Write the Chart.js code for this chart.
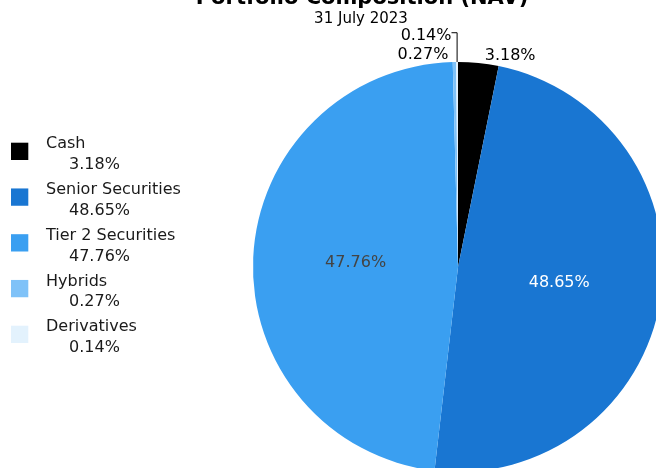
<!DOCTYPE html>
<html>
<head>
<meta charset="utf-8">
<script src="https://cdn.jsdelivr.net/npm/chart.js@4/dist/chart.umd.min.js"></script>
<style>
  html, body { margin: 0; padding: 0; overflow: hidden; background: #fff; }
  #wrap { position: absolute; left: 0; top: -30px; width: 722px; height: 540px; }
</style>
</head>
<body>
<div id="wrap"><canvas id="pieChart"></canvas></div>
<script>
const titleText = 'Portfolio Composition (NAV)';
const subtitleText = '31 July 2023';
const categories = ['Cash', 'Senior Securities', 'Tier 2 Securities', 'Hybrids', 'Derivatives'];
const values = [3.18, 48.65, 47.76, 0.27, 0.14];
const colors = ['#000000', '#1976D2', '#3A9FF1', '#7FC2F8', '#E3F2FD'];
const insideTextColors = ['#ffffff', '#ffffff', '#444444', '#444444', '#444444'];

const FONT = '"DejaVu Sans", Verdana, sans-serif';
const OFFSET_Y = 30; // the figure is shifted up, title is cut

const fmt = (v) => v.toFixed(2) + '%';

// title, subtitle and the two-line legend on the left
const figureText = {
  id: 'figureText',
  afterDraw(chart) {
    const ctx = chart.ctx;
    ctx.save();
    ctx.fillStyle = '#000';
    ctx.textAlign = 'center';
    ctx.textBaseline = 'alphabetic';
    ctx.font = 'bold 21px ' + FONT;
    ctx.fillText(titleText, 362, 3.8 + OFFSET_Y);
    ctx.font = '15px ' + FONT;
    ctx.fillText(subtitleText, 361, 23 + OFFSET_Y);

    ctx.textAlign = 'left';
    ctx.font = '16px ' + FONT;
    categories.forEach((name, i) => {
      const cy = 151.3 + i * 45.75 + OFFSET_Y;
      ctx.fillStyle = colors[i];
      ctx.fillRect(11, cy - 8.6, 17.3, 17.3);
      ctx.fillStyle = '#1a1a1a';
      ctx.fillText(name, 46, cy - 3);
      ctx.fillText(fmt(values[i]), 69, cy + 17.7);
    });
    ctx.restore();
  },
};

// percentage labels: inside for big slices, outside (with leader when crowded) for small ones
const sliceLabels = {
  id: 'sliceLabels',
  afterDatasetsDraw(chart) {
    const ctx = chart.ctx;
    const arcs = chart.getDatasetMeta(0).data;
    const placed = { left: [], right: [] };
    ctx.save();
    ctx.font = '16px ' + FONT;
    arcs.forEach((arc, i) => {
      const mid = (arc.startAngle + arc.endAngle) / 2;
      const r = arc.outerRadius;
      const text = fmt(values[i]);
      if (values[i] >= 5) {
        ctx.fillStyle = insideTextColors[i];
        ctx.textAlign = 'center';
        ctx.textBaseline = 'middle';
        ctx.fillText(text, arc.x + Math.cos(mid) * r * 0.5, arc.y + Math.sin(mid) * r * 0.5);
        return;
      }
      const side = Math.cos(mid) >= 0 ? 'right' : 'left';
      const ax = arc.x + Math.cos(mid) * (r + 3);
      let base = arc.y + Math.sin(mid) * (r + 3);
      const prev = placed[side][placed[side].length - 1];
      ctx.fillStyle = '#000';
      ctx.textBaseline = 'alphabetic';
      if (prev !== undefined && Math.abs(prev - base) < 16) {
        base = prev - 18.6;
        const ex = arc.x + Math.cos(mid) * r;
        const ey = arc.y + Math.sin(mid) * r;
        const ly = base - 7.7;
        const tx = side === 'left' ? ex - 5.6 : ex + 5.6;
        ctx.strokeStyle = '#000';
        ctx.lineWidth = 1;
        ctx.beginPath();
        ctx.moveTo(ex, ey);
        ctx.lineTo(ex, ly);
        ctx.lineTo(tx, ly);
        ctx.stroke();
        ctx.textAlign = side === 'left' ? 'right' : 'left';
        ctx.fillText(text, tx, base);
      } else {
        ctx.textAlign = side === 'left' ? 'right' : 'left';
        ctx.fillText(text, side === 'left' ? ax - 6 : ax + 6, base);
      }
      placed[side].push(base);
    });
    ctx.restore();
  },
};

const ctx = document.getElementById('pieChart').getContext('2d');
new Chart(ctx, {
  type: 'pie',
  data: {
    labels: categories,
    datasets: [{
      data: values,
      backgroundColor: colors,
      borderWidth: 0,
    }],
  },
  options: {
    responsive: true,
    maintainAspectRatio: false,
    animation: false,
    events: [],
    layout: {
      padding: { left: 253, right: 59, top: 92, bottom: 38 },
    },
    plugins: {
      legend: { display: false },
      title: { display: false },
      tooltip: { enabled: false },
    },
  },
  plugins: [figureText, sliceLabels],
});
</script>
</body>
</html>
